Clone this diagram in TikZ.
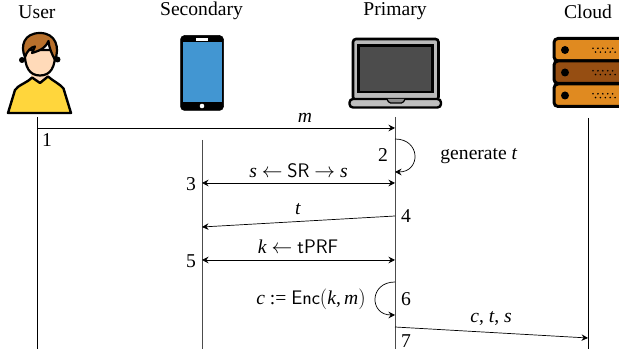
\documentclass[tikz,border=0pt]{standalone}
\usepackage{fontspec}
\setmainfont{Liberation Serif}
\usetikzlibrary{arrows.meta}
\newcommand{\mi}[1]{\textit{#1}}
\begin{document}
\begin{tikzpicture}[x=1pt,y=-1pt,
  lbl/.style={inner sep=0pt,font=\fontsize{19.6}{21}\selectfont},
  title/.style={lbl},
  life/.style={draw=black!70,line width=.9pt},
  msg/.style={draw=black,line width=.7pt,-{Stealth[length=6.5pt,width=6.5pt,inset=2.2pt]}},
  msgb/.style={draw=black,line width=.7pt,{Stealth[length=6.5pt,width=6.5pt,inset=2.2pt]}-{Stealth[length=6.5pt,width=6.5pt,inset=2.2pt]}},
  icon/.style={draw=black,line width=2.4pt,line join=round},
  srv/.style={draw=black,line width=3pt,rounded corners=4pt}]
\definecolor{skin}{RGB}{255,218,185}
\definecolor{hair}{RGB}{184,112,44}
\definecolor{shirt}{RGB}{255,214,60}
\definecolor{orng}{RGB}{224,138,32}
\definecolor{brwn}{RGB}{150,78,18}
\useasboundingbox (0,0) rectangle (619,352);
\begin{scope}
\clip (0,0) rectangle (619,352);
% titles
\node[title] (tu) at (37,12) {User};
\node[title] (ts) at (201.5,10.8) {Secondary};
\node[title] (tp) at (395,10.8) {Primary};
\node[title] (tc) at (588,12) {Cloud};
% user icon
\path[fill=skin] (31,66) rectangle (49,82);
\path[icon,fill=shirt]
  (8,113) -- (15,90) .. controls (18,85) and (27,83) .. (32,77.5) -- (40,83) -- (48,76.5)
  .. controls (53,81) and (60,84) .. (63.5,88.5) -- (71,113) -- cycle;
\path[fill=black] (22,60) circle[radius=3];
\path[fill=black] (57.5,59.5) circle[radius=3];
\path[draw=black,line width=2.2pt,fill=skin]
  (25,50) .. controls (24,68) and (30,75.5) .. (40,75.5) .. controls (50,75.5) and (56,68) .. (55,50) -- cycle;
\path[draw=black,line width=2.2pt,line join=round,fill=hair]
  (25,57) .. controls (20,46) and (24,33) .. (40,33) .. controls (56,33) and (60,48) .. (55,60)
  .. controls (52,54) and (49,48) .. (48.5,41) .. controls (46,47) and (42,50) .. (32,53)
  -- (35,46.5) .. controls (31,47) and (27,51) .. (25,57) -- cycle;
% phone
\path[draw=black,fill=black,line width=.5pt,rounded corners=4pt] (180.5,35.5) rectangle (223.5,110.5);
\path[fill={rgb,255:red,66;green,150;blue,210}] (182.5,42.5) rectangle (221.5,102);
\path[fill=white] (196,38.5) rectangle (208,41);
\path[fill=white] (202,106) circle[radius=2.3];
% laptop
\path[draw=black,line width=2.6pt,fill=black!27,rounded corners=3pt] (353,39) rectangle (438.5,100);
\path[draw=black,line width=2.2pt,fill=black!70] (358.5,45.5) rectangle (432.5,92);
\path[draw=black,line width=2.4pt,fill=black!25,rounded corners=3.5pt] (349.5,99) rectangle (441,107.5);
\path[draw=black,line width=1.2pt,fill=black!45,rounded corners=1.5pt] (387,99) -- (389,103) -- (403,103) -- (405,99);
% server
\foreach \yy/\cc in {38.5/orng,61/brwn,84/orng}{
  \path[srv,fill=\cc] (554,\yy) rectangle (640,\yy+22.5);
  \path[fill=black] (565,\yy+11.5) circle[radius=4];
  \foreach \dx in {0,1,2,3,4}{
    \path[fill=black] (593+\dx*4.9,\yy+9.8) circle[radius=.9];
    \path[fill=black] (595.5+\dx*4.9,\yy+13.6) circle[radius=.9];
  }
}
\end{scope}
% lifelines
\coordinate (u0) at (37,117); \coordinate (u1) at (37,349);
\coordinate (s0) at (202,140); \coordinate (s1) at (202,349);
\coordinate (p0) at (395,117); \coordinate (p1) at (395,349);
\coordinate (c0) at (588,118); \coordinate (c1) at (588,349);
\draw[life,draw=black] (u0) -- (u1);
\draw[life] (s0) -- (s1);
\draw[life] (p0) -- (p1);
\draw[life,draw=black] (c0) -- (c1);
% message anchors
\coordinate (mA) at (37,128); \coordinate (mB) at (395,128);
\coordinate (g0) at (395,139); \coordinate (g1) at (395,172);
\coordinate (sA) at (202,183); \coordinate (sB) at (395,183);
\coordinate (tA) at (395,216); \coordinate (tB) at (202,227);
\coordinate (kA) at (202,260); \coordinate (kB) at (395,260);
\coordinate (e0) at (395,282); \coordinate (e1) at (395,315);
\coordinate (cA) at (395,327); \coordinate (cB) at (588,338);
\draw[msg] (mA) -- (mB);
\draw[msg] (g0) .. controls (421,139) and (421,172) .. (g1);
\draw[msgb] (sA) -- (sB);
\draw[msg] (tA) -- (tB);
\draw[msgb] (kA) -- (kB);
\draw[msg] (e0) .. controls (369,282) and (369,315) .. (e1);
\draw[msg] (cA) -- (cB);
% labels
\node[lbl] (lm) at (305,117.5) {\mi{m}};
\node[lbl] (n1) at (47,140) {1};
\node[lbl] (n2) at (383,155) {2};
\node[lbl] (lg) at (479,156) {generate \mi{t}};
\node[lbl] (ls) at (298.5,171) {\mi{s} $\leftarrow$ {\sffamily SR} $\rightarrow$ \mi{s}};
\node[lbl] (n3) at (191,184) {3};
\node[lbl] (lt) at (298,209.5) {\mi{t}};
\node[lbl] (n4) at (406,216) {4};
\node[lbl] (lk) at (298,247) {\mi{k} $\leftarrow$ {\sffamily tPRF}};
\node[lbl] (n5) at (191,261) {5};
\node[lbl] (le) at (311,299) {\mi{c} := {\sffamily Enc}$($\mi{k},\,\mi{m}$)$};
\node[lbl] (n6) at (406,299) {6};
\node[lbl] (lc) at (491,318.5) {\mi{c}, \mi{t}, \mi{s}};
\node[lbl] (n7) at (406,341) {7};
\end{tikzpicture}
\end{document}
